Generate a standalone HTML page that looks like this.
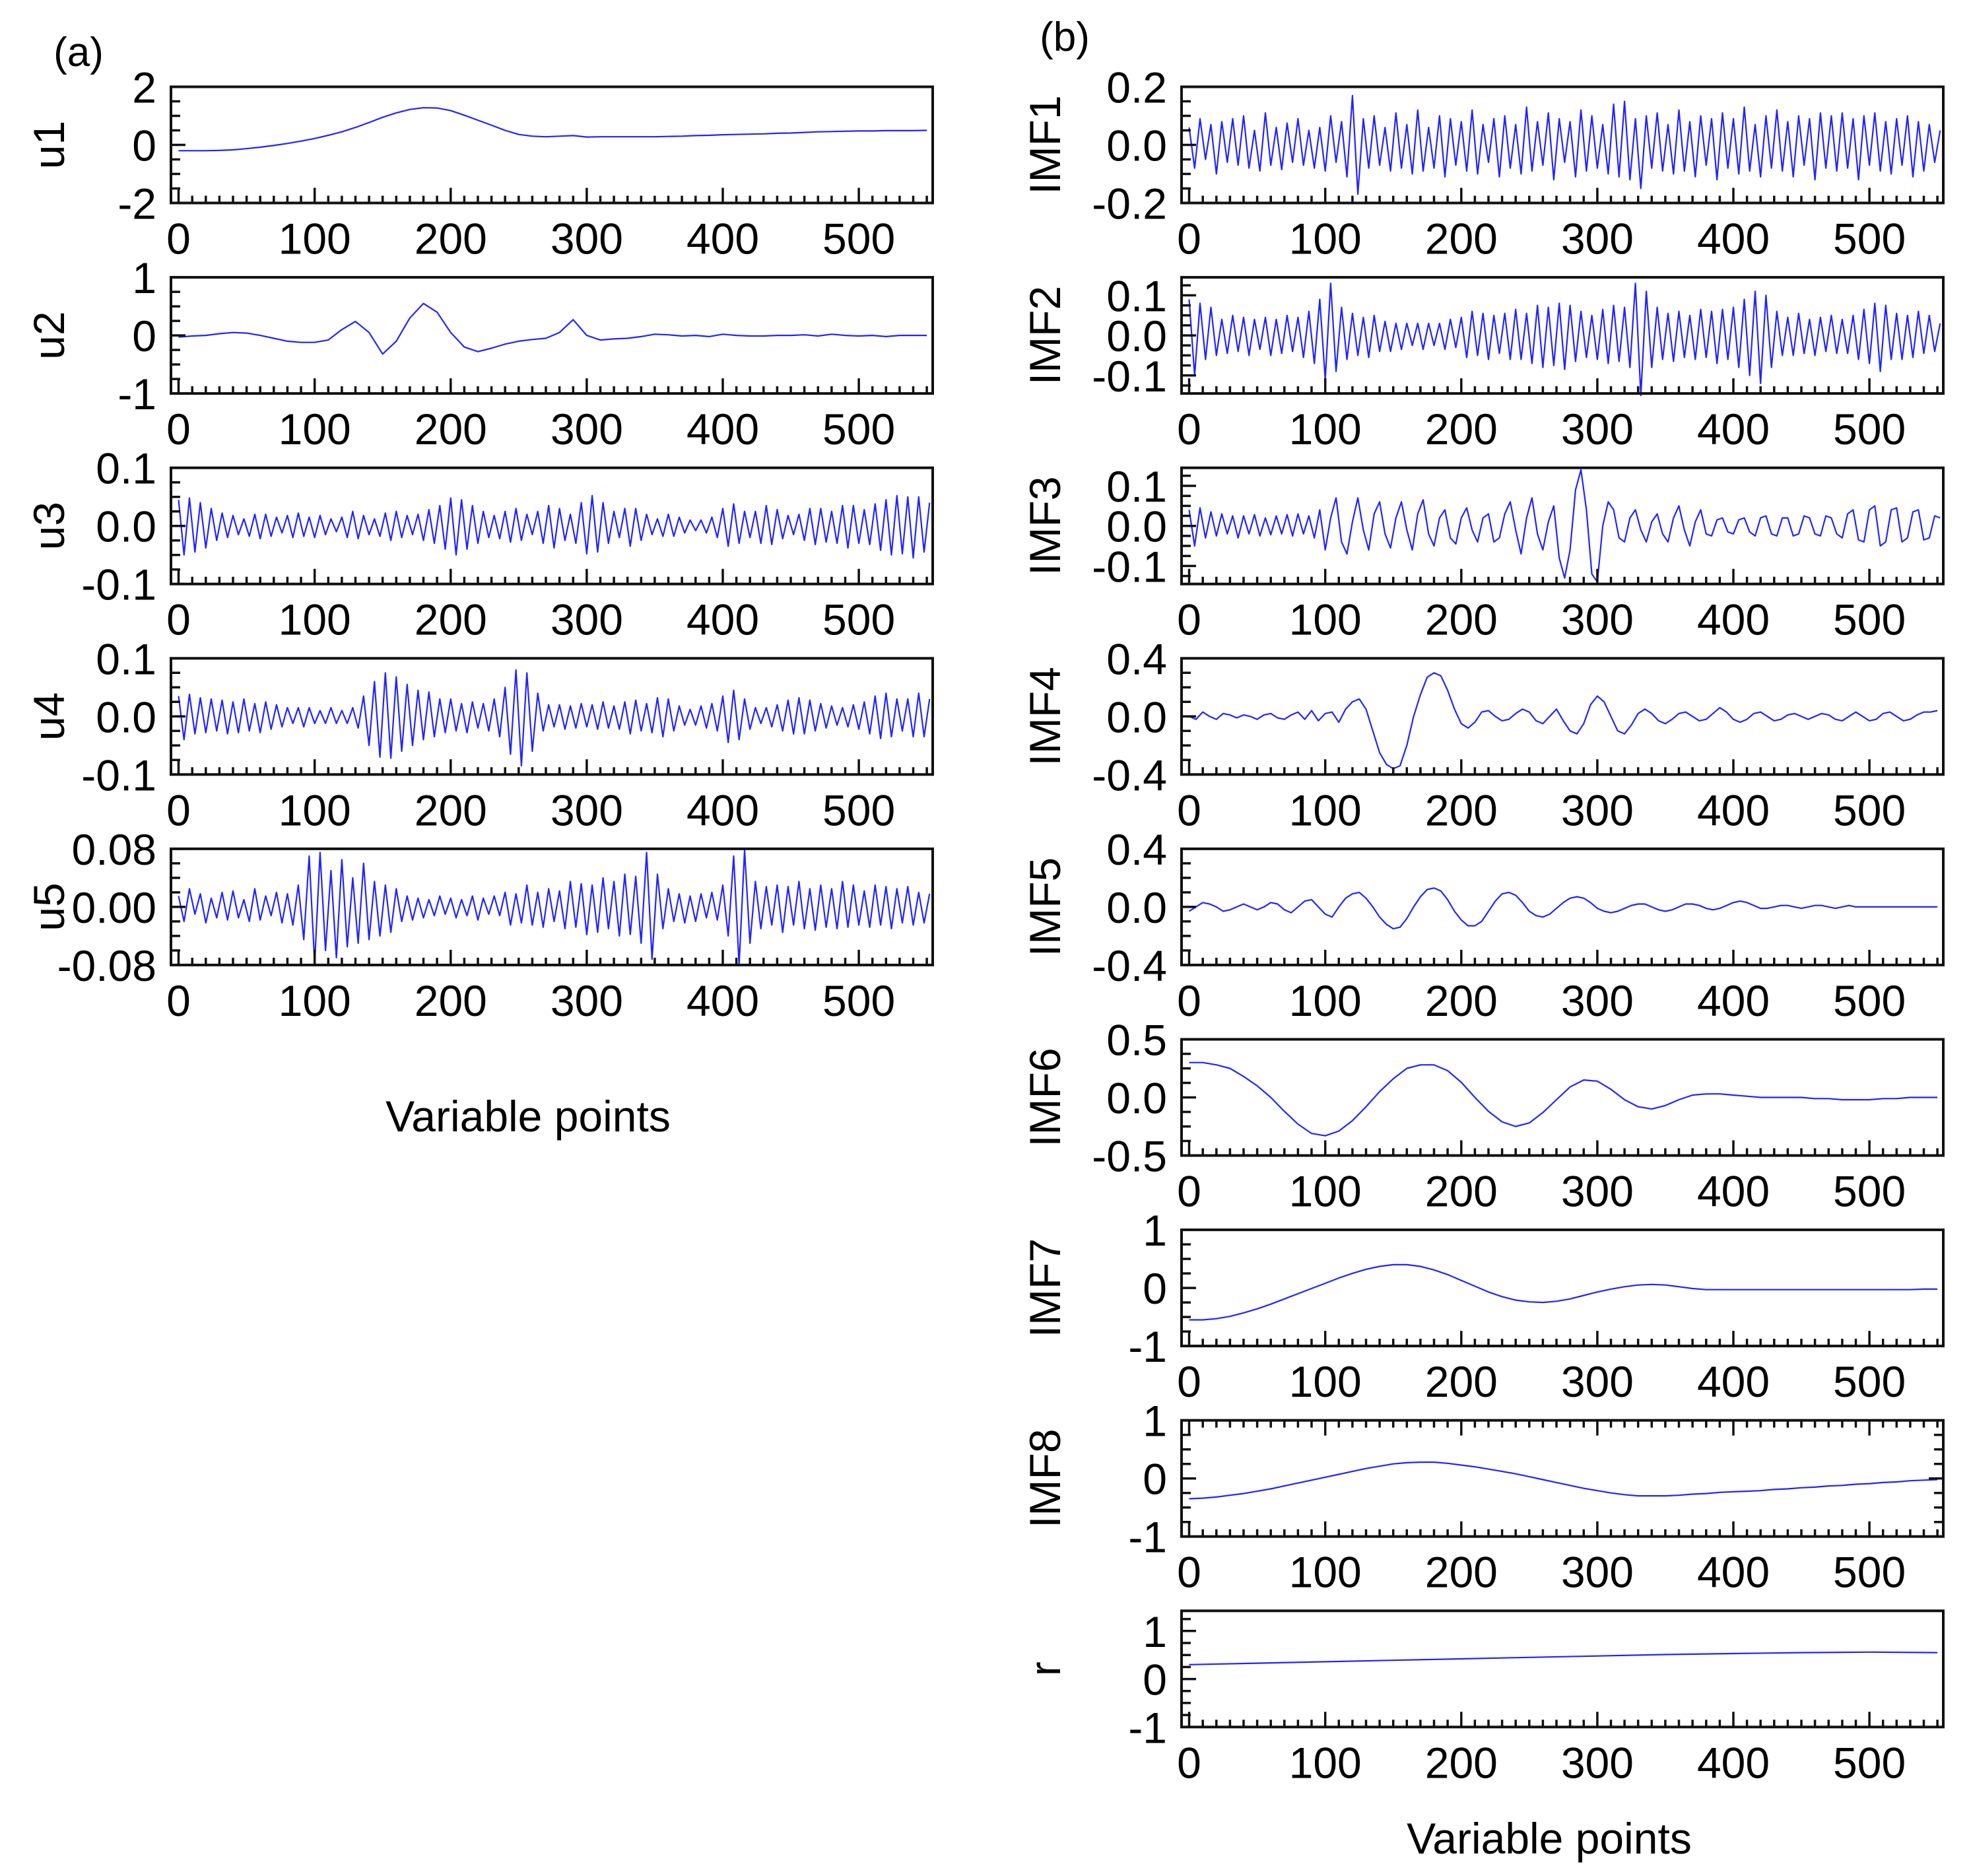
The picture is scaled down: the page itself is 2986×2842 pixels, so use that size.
<!DOCTYPE html>
<html><head><meta charset="utf-8">
<style>
html,body{margin:0;padding:0;background:#fff;}
svg{display:block;font-family:"Liberation Sans",Arial,sans-serif;}
</style></head>
<body>
<svg id="fig" width="2986" height="2842" viewBox="0 0 2986 2842" xmlns="http://www.w3.org/2000/svg">
<rect width="2986" height="2842" fill="#fff"/>
<text x="119" y="100" font-size="62" text-anchor="middle">(a)</text>
<text x="1613" y="77" font-size="62" text-anchor="middle">(b)</text>
<text x="800" y="1714" font-size="66" text-anchor="middle">Variable points</text>
<text x="2347" y="2808" font-size="66" text-anchor="middle">Variable points</text>
</svg>
<script>
// ---------- data ----------
const xTicks = [0,100,200,300,400,500];
const u1 = [-0.2,-0.2,-0.2,-0.19,-0.17,-0.13,-0.08,-0.02,0.05,0.13,0.22,0.33,0.45,0.6,0.77,0.95,1.1,1.22,1.28,1.27,1.18,1.02,0.85,0.68,0.5,0.36,0.3,0.28,0.3,0.32,0.27,0.28,0.28,0.28,0.28,0.28,0.29,0.3,0.32,0.33,0.35,0.36,0.37,0.38,0.4,0.41,0.43,0.45,0.46,0.47,0.48,0.48,0.49,0.49,0.49,0.5];
const u2 = [-0.03,-0.01,0.0,0.03,0.05,0.04,0.0,-0.05,-0.1,-0.12,-0.12,-0.08,0.1,0.24,0.05,-0.32,-0.1,0.3,0.55,0.4,0.05,-0.2,-0.28,-0.22,-0.15,-0.1,-0.07,-0.05,0.05,0.27,0.0,-0.08,-0.06,-0.05,-0.02,0.02,0.01,-0.01,0.0,-0.02,0.02,0.0,-0.01,-0.01,0.0,0.0,0.01,-0.01,0.02,0.0,-0.01,0.0,-0.02,0.0,0.0,0.0];
const u3 = [45,-50,48,-45,40,-38,30,-25,22,-20,18,-15,12,-18,20,-22,20,-18,15,-12,18,-20,22,-18,15,-20,18,-15,12,-10,15,-20,25,-22,18,-15,12,-18,22,-25,25,-20,18,-15,20,-25,28,-30,35,-40,48,-50,45,-40,35,-30,25,-20,18,-22,25,-28,30,-25,20,-15,25,-30,35,-38,30,-25,20,-30,40,-48,52,-45,40,-30,25,-20,30,-35,30,-25,20,-15,12,-18,20,-18,15,-12,10,-8,10,-12,15,-20,30,-35,38,-30,25,-20,25,-30,35,-32,28,-22,18,-15,20,-25,30,-32,30,-28,25,-30,35,-38,35,-30,28,-32,38,-42,45,-50,52,-48,50,-55,50,-45,40];
const u4 = [35,-40,38,-30,32,-28,30,-25,28,-30,25,-28,30,-25,22,-28,25,-22,20,-18,15,-12,15,-18,15,-12,10,-12,15,-12,10,-12,15,-20,35,-50,60,-70,75,-72,68,-60,55,-50,45,-40,42,-35,30,-28,30,-25,22,-28,25,-20,22,-25,30,-35,50,-65,80,-85,75,-60,40,-25,20,-18,20,-22,18,-20,22,-18,20,-22,25,-20,18,-22,25,-30,28,-25,22,-28,32,-35,30,-25,18,-15,12,-15,18,-20,22,-25,35,-45,45,-40,30,-22,15,-12,15,-18,20,-25,28,-30,32,-30,28,-25,22,-20,18,-15,15,-18,20,-22,25,-30,35,-38,40,-35,30,-25,30,-35,40,-35,30];
const u5 = [15,-20,25,-10,18,-22,12,-15,20,-18,22,-15,10,-20,25,-18,15,-12,20,-22,18,-25,30,-45,70,-78,75,-60,50,-70,65,-55,40,-50,60,-45,35,-40,30,-35,25,-20,15,-18,12,-15,10,-12,15,-10,12,-15,10,-12,15,-18,12,-10,15,-12,20,-25,18,-22,30,-25,20,-28,25,-20,22,-30,35,-28,32,-38,30,-35,40,-30,35,-40,45,-38,42,-50,75,-72,45,-30,25,-20,18,-22,15,-20,18,-15,20,-18,30,-40,70,-80,78,-50,35,-30,28,-25,30,-35,28,-25,35,-30,25,-32,30,-28,25,-30,35,-28,30,-25,22,-28,30,-25,28,-30,25,-22,28,-25,20,-22,18];
const imf1 = [60,-80,90,-50,70,-100,80,-60,90,-70,100,-80,50,-90,110,-70,60,-85,75,-60,90,-70,50,-80,60,-90,100,-60,80,-110,170,-170,90,-80,100,-70,60,-90,110,-80,70,-100,120,-90,60,-80,100,-110,90,-70,80,-90,120,-100,70,-60,90,-110,100,-80,70,-100,130,-90,80,-70,110,-120,90,-60,80,-110,120,-90,100,-80,70,-100,140,-110,150,-120,90,-150,100,-80,110,-90,70,-100,120,-90,80,-110,100,-70,90,-120,110,-80,90,-100,130,-90,70,-110,100,-80,120,-90,80,-110,100,-70,90,-120,110,-80,100,-90,110,-80,90,-120,100,-70,110,-90,80,-100,90,-70,100,-110,80,-90,70,-60,50];
const imf2 = [90,-100,80,-60,70,-50,40,-45,50,-40,45,-50,40,-35,45,-50,40,-45,50,-40,45,-55,60,-70,90,-110,130,-90,70,-60,55,-50,45,-55,50,-40,35,-40,30,-35,30,-25,30,-35,30,-25,30,-35,40,-30,45,-55,60,-50,55,-60,50,-45,55,-60,65,-60,55,-70,75,-80,70,-75,80,-85,75,-65,60,-55,50,-60,65,-70,75,-65,70,-80,130,-150,110,-80,70,-60,55,-65,60,-55,50,-60,65,-55,60,-70,65,-60,70,-80,90,-100,110,-120,100,-80,60,-50,45,-50,55,-45,40,-50,45,-40,50,-45,40,-45,50,-60,65,-70,80,-90,75,-60,55,-60,50,-55,60,-45,50,-40,30];
const imf3 = [40,-50,45,-30,35,-25,30,-20,25,-30,25,-20,28,-25,20,-22,25,-20,28,-25,30,-20,25,-30,40,-60,20,70,-40,-70,10,70,-10,-60,30,60,-20,-55,20,60,-10,-60,30,65,-20,-50,20,40,-30,-45,20,45,-10,-40,20,30,-40,-30,30,60,-10,-70,20,70,-20,-60,10,50,-80,-130,-60,90,140,40,-120,-140,0,60,40,-30,-40,20,40,-10,-40,10,30,-20,-40,20,50,-10,-50,10,40,-20,-25,15,20,-15,-20,15,20,-15,-25,20,25,-20,-25,20,20,-25,-20,25,20,-20,-25,25,20,-20,-30,30,40,-35,-40,40,50,-50,-40,40,45,-40,-30,35,40,-35,-30,25,20];
const imf4 = [0,-2,3,0,-2,2,1,-1,1,0,-2,1,2,-1,-2,1,3,-2,4,-3,2,3,-4,5,10,12,5,-10,-25,-33,-36,-34,-20,0,15,27,30,28,18,5,-5,-8,-4,3,4,0,-3,-2,2,5,3,-3,-5,0,5,-3,-10,-12,-5,8,14,10,0,-10,-12,-6,2,5,2,-3,-5,-2,2,3,0,-3,-2,2,6,3,-2,-4,-2,2,3,0,-3,-2,1,2,0,-2,0,2,1,-2,-3,0,3,0,-3,-2,2,3,0,-3,-2,1,3,3,4];
const imf5 = [-3,0,3,2,0,-3,-2,0,2,0,-2,0,3,2,-2,-4,0,4,5,0,-5,-7,0,6,9,10,6,0,-7,-12,-15,-14,-8,0,7,12,13,11,5,-3,-9,-13,-13,-10,-3,4,9,10,8,3,-3,-6,-7,-5,-1,3,6,7,6,3,-1,-3,-4,-3,-1,1,2,2,0,-2,-3,-2,0,2,2,1,-1,-2,-1,1,3,4,3,1,-1,-1,0,1,1,0,-1,0,1,1,0,-1,0,1,0,0,0,0,0,0,0,0,0,0,0,0,0];
const imf6 = [30,30,28,25,18,10,0,-12,-23,-31,-33,-29,-20,-8,5,16,25,28,28,23,13,0,-12,-21,-25,-22,-13,-2,9,15,14,7,-2,-8,-10,-7,-2,2,3,3,2,1,0,0,0,0,-1,-1,-2,-2,-2,-1,-1,0,0,0];
const imf7 = [-55,-55,-53,-49,-43,-36,-28,-19,-10,-1,8,17,25,32,37,40,40,37,31,23,13,3,-7,-15,-21,-24,-25,-23,-19,-13,-7,-2,2,5,6,5,2,-1,-3,-3,-3,-3,-3,-3,-3,-3,-3,-3,-3,-3,-3,-3,-3,-3,-2,-2];
const imf8 = [-35,-34,-32,-29,-26,-22,-18,-13,-8,-3,2,7,12,17,21,25,27,28,28,26,23,20,16,12,8,3,-2,-7,-12,-17,-21,-25,-28,-30,-30,-30,-29,-27,-26,-24,-23,-22,-21,-19,-18,-16,-15,-13,-12,-10,-9,-7,-6,-4,-3,-2];
const resid = [30,33,36,39,42,45,48,51,53,55,56,55];

// ---------- layout ----------
const NS = "http://www.w3.org/2000/svg";
const svg = document.getElementById('fig');
const PW = 1154, PH = 176, GAP = 288.6, TOP0 = 131.5;
const XMIN = -5.6, XMAX = 554.3;
const BLUE = "#2323ff";

function mk(tag, attrs, parent){
  const e = document.createElementNS(NS, tag);
  for (const k in attrs) e.setAttribute(k, attrs[k]);
  (parent||svg).appendChild(e);
  return e;
}

const panels = [
  {id:'u1', side:0, row:0, data:u1, step:10, scale:1, ymin:-2, ymax:2, ticks:[2,0,-2], labels:['2','0','-2'], minor:0.5},
  {id:'u2', side:0, row:1, data:u2, step:10, scale:1, ymin:-1, ymax:1, ticks:[1,0,-1], labels:['1','0','-1'], minor:0.25},
  {id:'u3', side:0, row:2, data:u3, step:4, scale:0.001, ymin:-0.1, ymax:0.1, ticks:[0.1,0,-0.1], labels:['0.1','0.0','-0.1'], minor:0.025},
  {id:'u4', side:0, row:3, data:u4, step:4, scale:0.001, ymin:-0.1, ymax:0.1, ticks:[0.1,0,-0.1], labels:['0.1','0.0','-0.1'], minor:0.025},
  {id:'u5', side:0, row:4, data:u5, step:4, scale:0.001, ymin:-0.08, ymax:0.08, ticks:[0.08,0,-0.08], labels:['0.08','0.00','-0.08'], minor:0.02},
  {id:'IMF1', side:1, row:0, data:imf1, step:4, scale:0.001, ymin:-0.2, ymax:0.2, ticks:[0.2,0,-0.2], labels:['0.2','0.0','-0.2'], minor:0.05},
  {id:'IMF2', side:1, row:1, data:imf2, step:4, scale:0.001, ymin:-0.145, ymax:0.145, ticks:[0.1,0,-0.1], labels:['0.1','0.0','-0.1'], minor:0.025},
  {id:'IMF3', side:1, row:2, data:imf3, step:4, scale:0.001, ymin:-0.145, ymax:0.145, ticks:[0.1,0,-0.1], labels:['0.1','0.0','-0.1'], minor:0.025},
  {id:'IMF4', side:1, row:3, data:imf4, step:5, scale:0.01, ymin:-0.4, ymax:0.4, ticks:[0.4,0,-0.4], labels:['0.4','0.0','-0.4'], minor:0.1},
  {id:'IMF5', side:1, row:4, data:imf5, step:5, scale:0.01, ymin:-0.4, ymax:0.4, ticks:[0.4,0,-0.4], labels:['0.4','0.0','-0.4'], minor:0.1},
  {id:'IMF6', side:1, row:5, data:imf6, step:10, scale:0.01, ymin:-0.5, ymax:0.5, ticks:[0.5,0,-0.5], labels:['0.5','0.0','-0.5'], minor:0.125},
  {id:'IMF7', side:1, row:6, data:imf7, step:10, scale:0.01, ymin:-1, ymax:1, ticks:[1,0,-1], labels:['1','0','-1'], minor:0.25},
  {id:'IMF8', side:1, row:7, data:imf8, step:10, scale:0.01, ymin:-1, ymax:1, ticks:[1,0,-1], labels:['1','0','-1'], minor:0.25, mirror:true},
  {id:'r', side:1, row:8, data:resid, step:50, scale:0.01, ymin:-1, ymax:1.42, ticks:[1,0,-1], labels:['1','0','-1'], minor:0.25}
];

panels.forEach(p => {
  const left = p.side === 0 ? 259 : 1790;
  const titleX = p.side === 0 ? 74 : 1583;
  const top = TOP0 + p.row * GAP;
  const bottom = top + PH;
  const xs = v => left + (v - XMIN) / (XMAX - XMIN) * PW;
  const ys = v => bottom - (v - p.ymin) / (p.ymax - p.ymin) * PH;

  const g = mk('g', {});
  
  

  let d = '';
  p.data.forEach((v, i) => {
    const x = i * p.step;
    d += (i ? 'L' : 'M') + xs(x).toFixed(1) + ',' + ys(v * p.scale).toFixed(1);
  });
  const line = mk('path', {d:d, fill:'none', stroke:BLUE, 'stroke-width':2.2, 'stroke-linejoin':'round'}, g);
  
  

  let td = '';
  for (let v = 0; v <= 550; v += 10) {
    const len = v % 100 === 0 ? 23 : 11;
    const x = xs(v);
    td += 'M' + x.toFixed(1) + ',' + bottom + 'v' + (-len);
    if (p.mirror) td += 'M' + x.toFixed(1) + ',' + top + 'v' + len;
  }
  const nMin = Math.ceil(p.ymin / p.minor - 1e-6), nMax = Math.floor(p.ymax / p.minor + 1e-6);
  for (let k = nMin; k <= nMax; k++) {
    const v = k * p.minor;
    const major = p.ticks.some(t => Math.abs(t - v) < 1e-9);
    const len = major ? 22 : 14;
    const y = ys(v);
    td += 'M' + left + ',' + y.toFixed(1) + 'h' + len;
    if (p.mirror) td += 'M' + (left + PW) + ',' + y.toFixed(1) + 'h' + (-len);
  }
  const ticks = mk('path', {d:td, fill:'none', stroke:'#111', 'stroke-width':3.5}, g);
  
  

  const frame = mk('rect', {x:left, y:top, width:PW, height:PH, fill:'none', stroke:'#111', 'stroke-width':4}, g);
  
  

  xTicks.forEach(v => {
    const t = mk('text', {x:xs(v).toFixed(1), y:(bottom + 77).toFixed(1), 'font-size':66, 'text-anchor':'middle', fill:'#000'}, g);
    t.textContent = String(v);
    
    
  });

  p.ticks.forEach((v, i) => {
    const t = mk('text', {x:left - 22, y:(ys(v) + 24).toFixed(1), 'font-size':66, 'text-anchor':'end', fill:'#000'}, g);
    t.textContent = p.labels[i];
    
    
  });

  const cy = top + PH / 2;
  const yt = mk('text', {x:titleX, y:cy, 'font-size':66, 'text-anchor':'middle', 'dominant-baseline':'central', transform:'rotate(-90 ' + titleX + ' ' + cy + ')', fill:'#000'}, g);
  yt.textContent = p.id;
  
  
});
</script>
</body></html>
